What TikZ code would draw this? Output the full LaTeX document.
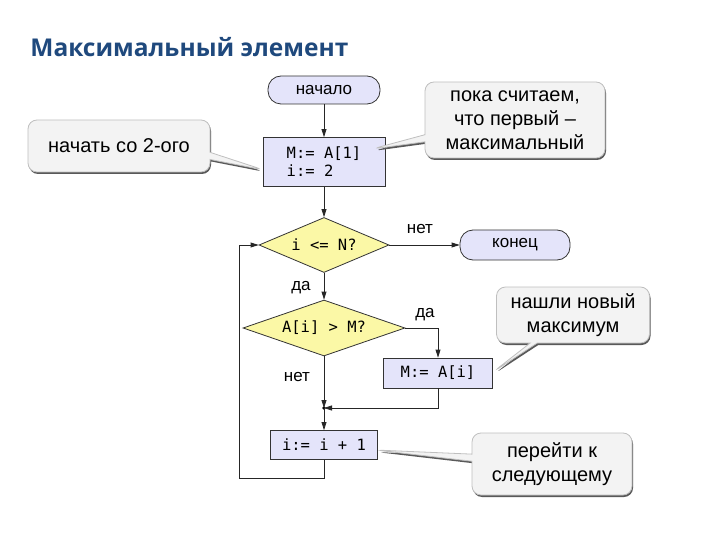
\documentclass[tikz,border=0pt]{standalone}
\usepackage{fontspec}
\setmainfont{Liberation Sans}
\setmonofont{DejaVu Sans Mono}
\newfontfamily\titlefont{Open Sans}
\usetikzlibrary{shapes.geometric,shapes.callouts,shadows,arrows.meta}
\definecolor{boxfill}{HTML}{E4E4FA}
\definecolor{decfill}{HTML}{FBF8A6}
\definecolor{notefill}{HTML}{F3F3F3}
\definecolor{titleblue}{HTML}{1F497D}
\tikzset{
  every picture/.style={line width=0.8pt},
  proc/.style={rectangle,draw=black!80,fill=boxfill,font=\fontsize{15.5}{18}\selectfont\ttfamily,inner sep=0pt},
  term/.style={rectangle,rounded corners=13pt,draw=black!80,fill=boxfill,font=\fontsize{17}{20}\selectfont,inner sep=0pt},
  dec/.style={diamond,aspect=2.4,draw=black!80,fill=decfill,font=\fontsize{15.5}{18}\selectfont\ttfamily,inner sep=0pt},
  lbl/.style={font=\fontsize{17}{20}\selectfont,inner sep=0pt},
  note/.style={rectangle callout,rounded corners=9pt,draw=black!25,fill=notefill,
    font=\fontsize{20}{24}\selectfont,align=center,inner sep=0pt,
    drop shadow={shadow xshift=1pt,shadow yshift=-2pt,fill=black!65,opacity=1}},
  arr/.style={-{Triangle[length=8pt,width=5pt]}},
  ln/.style={draw=black!85}
}
\begin{document}
\begin{tikzpicture}[x=1pt,y=-1pt]
\useasboundingbox (0,0) rectangle (720,540);
\node[anchor=west,font=\fontsize{24.5}{28}\selectfont\titlefont\bfseries,text=titleblue,inner sep=0pt] (title) at (30,47) {Максимальный элемент};

\node[term,minimum width=112pt,minimum height=28pt] (start) at (324,90) {начало};
\node[proc,minimum width=122pt,minimum height=49pt,align=left] (init) at (324,162) {M:= A[1]\\i:= 2};
\node[dec,minimum width=130pt,minimum height=55pt] (c1) at (324,245) {i <= N?};
\node[term,minimum width=110pt,minimum height=30pt] (end) at (515,245) {конец};
\node[dec,minimum width=162pt,minimum height=56pt] (c2) at (324,328) {A[i] > M?};
\node[proc,minimum width=109pt,minimum height=30pt] (mx) at (438,373) {M:= A[i]};
\node[proc,minimum width=107pt,minimum height=29pt] (inc) at (324,445) {i:= i + 1};

\coordinate (j) at (324,408);
\fill (j) circle (1.8pt);
\coordinate (lb) at (324,478);
\coordinate (ll) at (239,478);
\coordinate (lt) at (239,245);

\node[lbl] (l1) at (420,229) {нет};
\node[lbl] (l2) at (301,288) {да};
\node[lbl] (l3) at (425,315) {да};
\node[lbl] (l4) at (297,377) {нет};

\draw[ln,arr] (start) -- (init);
\draw[ln,arr] (init) -- (c1);
\draw[ln,arr] (c1.east) -- (end.west);
\draw[ln,arr] (c1.south) -- (c2.north);
\draw[ln,arr] (c2.east) -| (mx.north);
\draw[ln,arr] (c2.south) -- (j);
\draw[ln,arr] (mx.south) |- (j);
\draw[ln,arr] (j) -- (inc.north);
\draw[ln,arr] (inc.south) -- (lb) -- (ll) -- (lt) -- (c1.west);

\coordinate (p1) at (264,170);
\coordinate (p2) at (372,149);
\coordinate (p3) at (493,372);
\coordinate (p4) at (375,450);
\node[note,minimum width=182pt,minimum height=52pt,callout absolute pointer={(p1)}] (n1) at (119,146) {начать со 2-ого};
\node[note,minimum width=180pt,minimum height=76pt,callout absolute pointer={(p2)}] (n2) at (515,120) {пока считаем,\\что первый –\\максимальный};
\node[note,minimum width=153pt,minimum height=56pt,callout absolute pointer={(p3)}] (n3) at (573,315) {нашли новый\\максимум};
\node[note,minimum width=160pt,minimum height=62pt,callout absolute pointer={(p4)}] (n4) at (552,464) {перейти к\\следующему};
\end{tikzpicture}
\end{document}
